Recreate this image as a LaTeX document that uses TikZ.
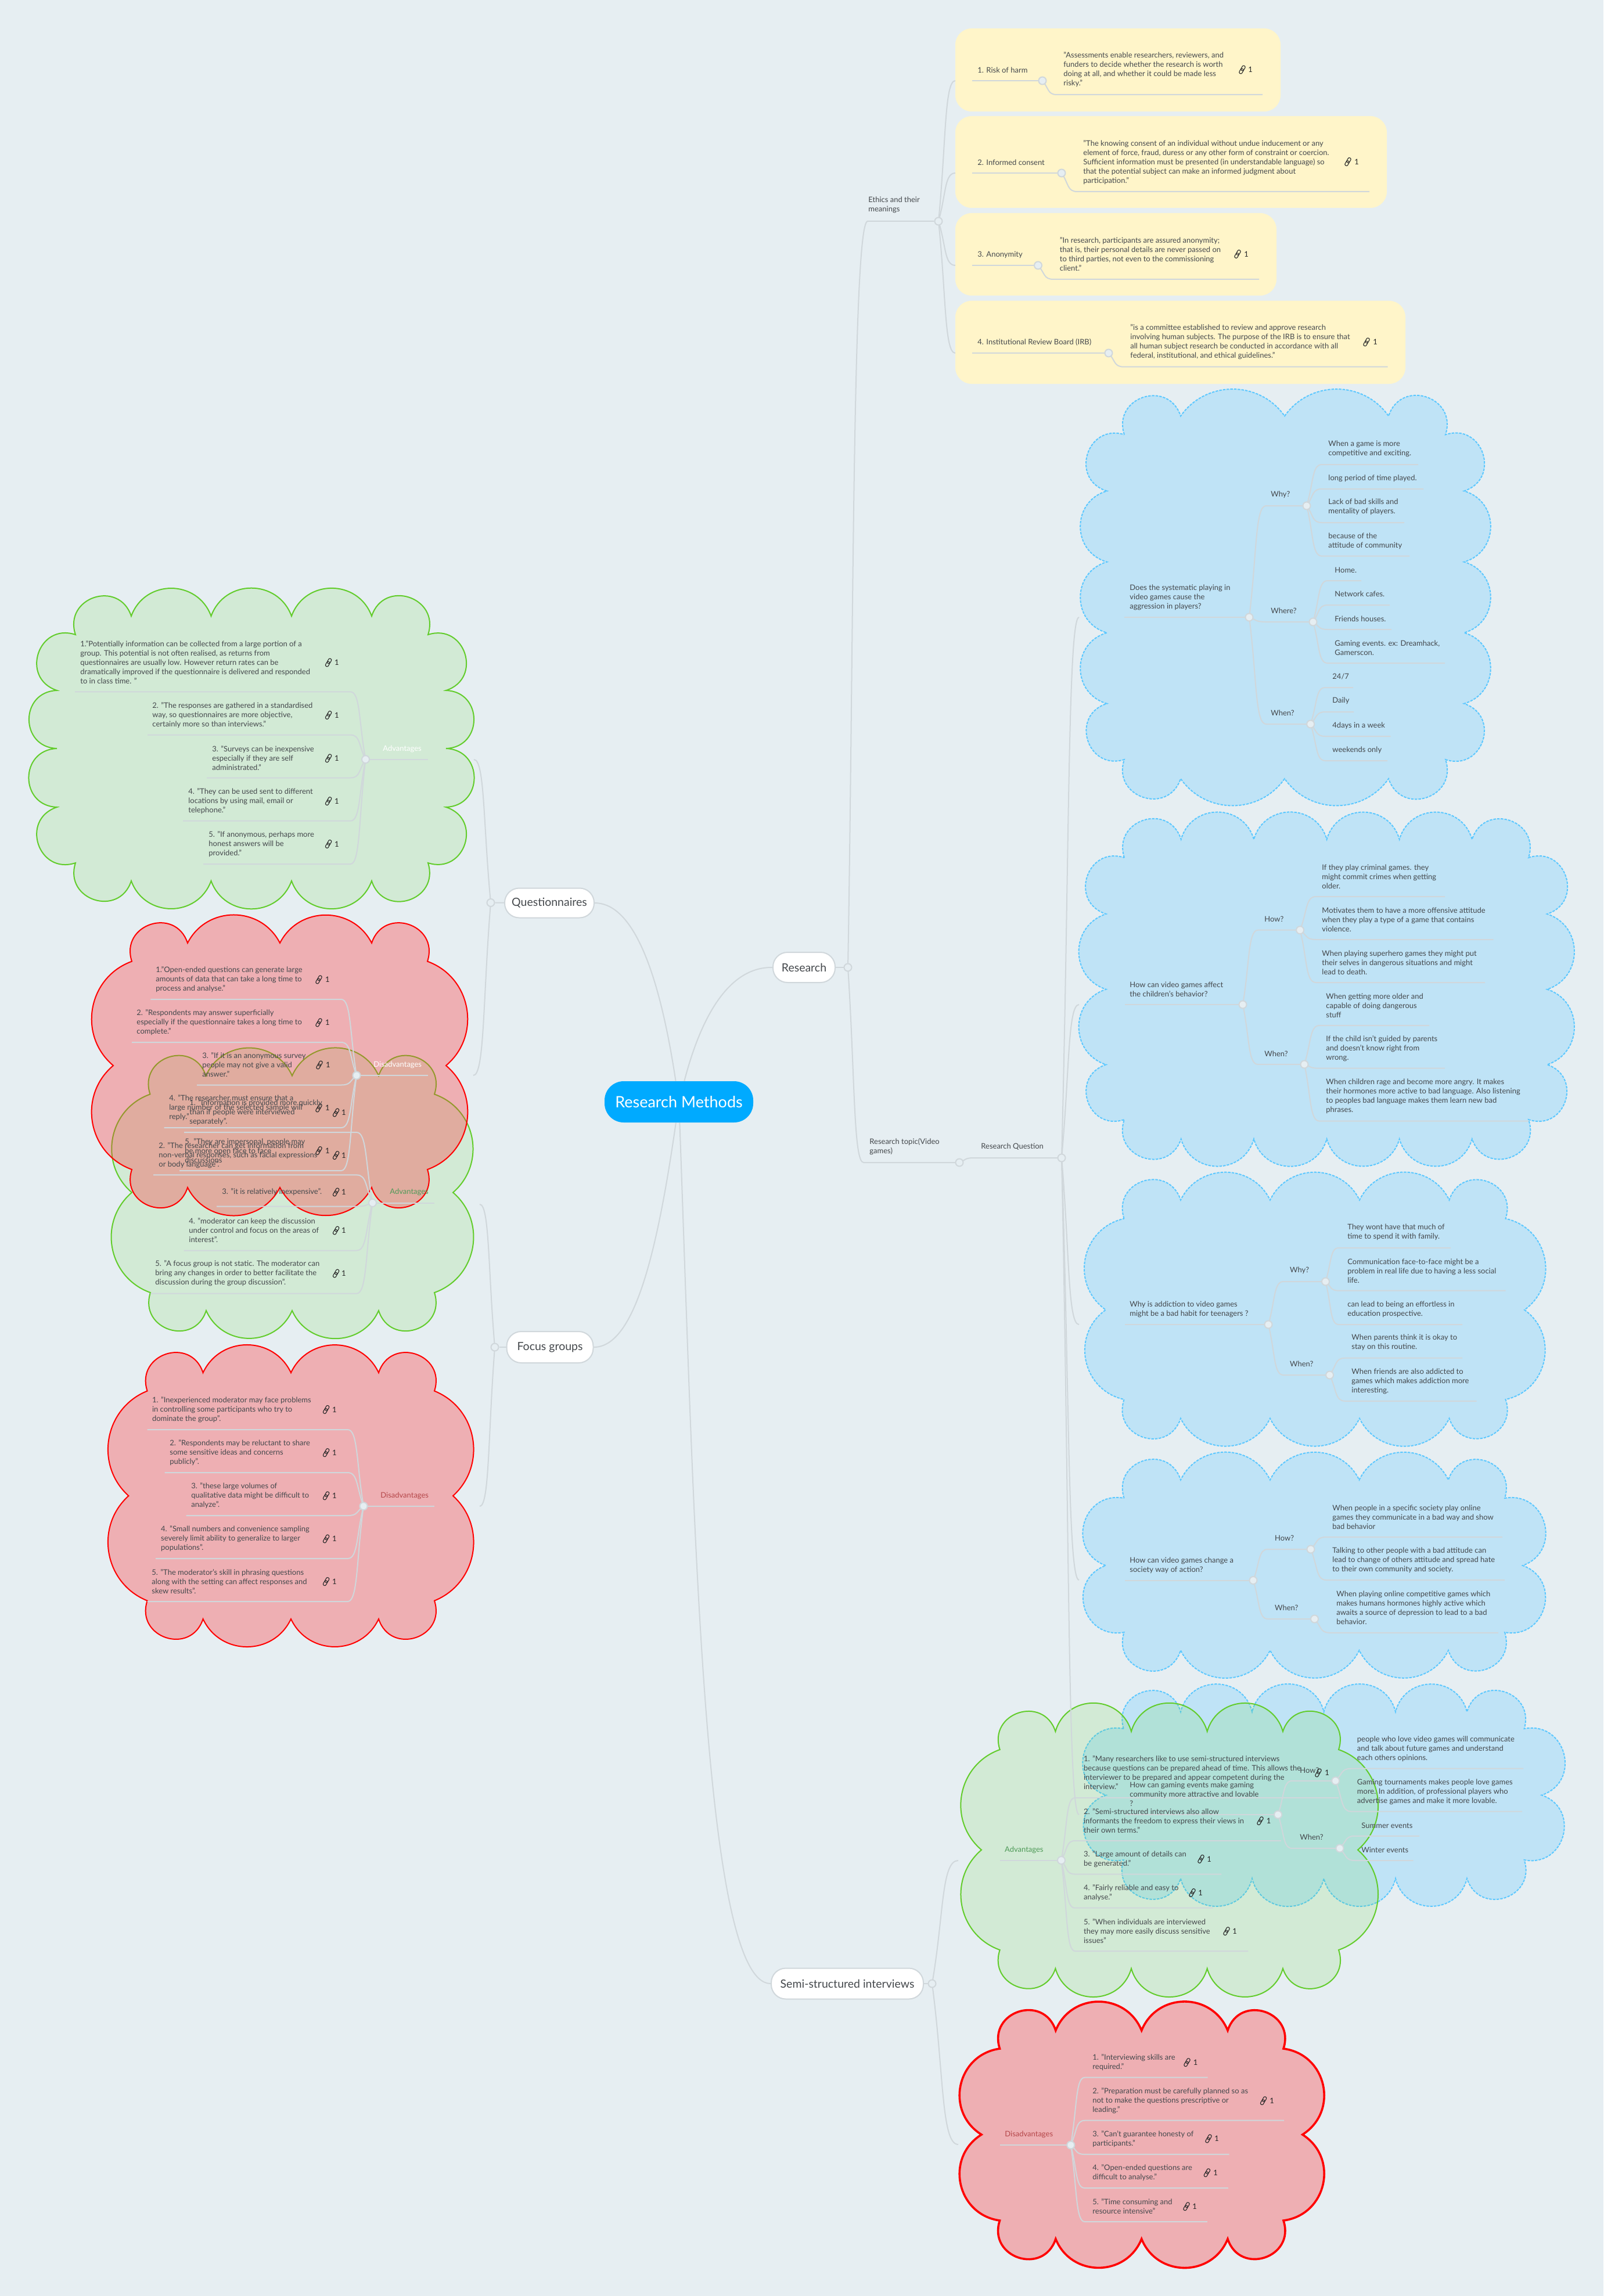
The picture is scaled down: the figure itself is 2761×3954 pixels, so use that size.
\documentclass[tikz,border=0pt]{standalone}
\usepackage{fontspec}
\setmainfont{Lato}
\usetikzlibrary{calc}
\definecolor{bgc}{HTML}{E6EEF2}
\definecolor{linec}{HTML}{D0D7DB}
\definecolor{txtc}{HTML}{44484C}
\definecolor{yellowc}{HTML}{FFF5C9}
\definecolor{bluef}{HTML}{BFE3F6}
\definecolor{blues}{HTML}{5CC8FF}
\definecolor{greenf}{RGB}{100,215,50}
\definecolor{greens}{HTML}{62CC2B}
\definecolor{redf}{RGB}{255,44,48}
\definecolor{tgreen}{HTML}{4F9A58}
\definecolor{tred}{HTML}{B5474A}
\definecolor{rootc}{HTML}{00AAFF}
\pgfdeclarelayer{cl}
\pgfdeclarelayer{ln}
\pgfsetlayers{cl,ln,main}
\newcounter{nc}
\tikzset{
  conn/.style={draw=linec,line width=1pt},
  tx/.style={anchor=west,align=left,inner sep=0pt,text=txtc,font=\fontsize{6.5}{8}\selectfont},
  dotn/.style={circle,draw=linec,fill=bgc,line width=1pt,minimum size=6.5pt,inner sep=0pt},
  pill/.style={draw=linec,fill=white,line width=1pt,rounded corners=12.5pt,text=txtc,inner sep=0pt,font=\fontsize{9.75}{11}\selectfont},
  rootn/.style={fill=rootc,rounded corners=16.5pt,text=white,inner sep=0pt,font=\fontsize{13.5}{15}\selectfont,minimum width=128pt,minimum height=35.5pt},
  bluec/.style={fill=bluef,draw=blues,line width=1pt,dash pattern=on 2.2pt off 1pt},
  greenc/.style={draw=greens,line width=1pt,fill=greenf,fill opacity=.15},
  redc/.style={draw=red,line width=1pt,fill=redf,fill opacity=.32},
  ybox/.style={fill=yellowc,rounded corners=14pt},
  iconp/.style={draw=black!85,line width=.55pt,rounded corners=1.1pt},
}
\newcommand\cloudp[3]{\begin{pgfonlayer}{cl}
  \draw[#1] #2 foreach \xc/\yc/\bc [evaluate=\bc as \lc using {0.8515/cos(\bc/2)^2}] in {#3} { to[bend left=\bc,looseness=\lc] (\xc,\yc) } -- cycle;
\end{pgfonlayer}}
\newcommand\DOT[3]{\node[dotn] (#1) at (#2,#3) {};}
\newcommand\cn[5]{\coordinate (#5) at (#3,#4);
  \begin{pgfonlayer}{ln}
  \draw[conn] let \p1=(#1), \p2=(#2,#4) in (\p1) .. controls ({\x1+.45*(\x2-\x1)},{\y1+.55*(\y2-\y1)}) and ({\x1+.35*(\x2-\x1)},\y2) .. (\p2) -- (#5);
  \end{pgfonlayer}}
\newcommand\tn[3]{\stepcounter{nc}\node[tx] (t\arabic{nc}) at (#1,#2) {#3};}
\newcommand\leaf[7]{\stepcounter{nc}\cn{#1}{#2}{#3}{#4}{e\arabic{nc}}\tn{#5}{#6}{#7}}
\newcommand\lnk[3]{\begin{scope}[shift={(#1,#2)},rotate=60]
    \draw[iconp] (-7.5,-2.6) rectangle (1.5,2.6);
    \draw[iconp] (-1.5,-2.6) rectangle (7.5,2.6);
  \end{scope}
  \stepcounter{nc}\node[tx,anchor=center,text=black!85] (t\arabic{nc}) at (#3,#2) {1};}
\begin{document}
\begin{tikzpicture}[x=0.5pt,y=-0.5pt]
\useasboundingbox (0,0) rectangle (2761,3954);
\begin{pgfonlayer}{cl}
\fill[bgc] (0,0) rectangle (2761,3954);
\fill[ybox] (1645,49) rectangle (2205,192);
\fill[ybox] (1645,200) rectangle (2388,358);
\fill[ybox] (1645,367) rectangle (2198,509);
\fill[ybox] (1645,518) rectangle (2420,661);
\end{pgfonlayer}
% ---- clouds: blue
\cloudp{bluec}{(1936,748.5)}{2033/716.5/90,2212/716.5/55,2391/716.5/55,2489/748.5/90,2521/845.6/90,2521/967.7/74,2521/1089.7/74,2521/1211.7/74,2489/1308/90,2391/1341/90,2212/1341/55,2033/1341/55,1936/1308/90,1906/1211.7/90,1906/1089.7/74,1906/967.7/74,1906/845.6/74,1936/748.5/90}
\cloudp{bluec}{(1936,1477)}{2033.7/1445.5/90,2159/1445.5/74,2284.6/1445.5/74,2409.7/1445.5/74,2534.8/1445.5/74,2632/1477/90,2664/1574/90,2664/1703.7/72,2664/1833.4/72,2632/1928/90,2534.8/1961.5/90,2409.7/1961.5/74,2284.6/1961.5/74,2159/1961.5/74,2033.7/1961.5/74,1936/1928/90,1904.5/1833.4/90,1904.5/1703.7/72,1904.5/1574/72,1936/1477/90}
\cloudp{bluec}{(1935.6,2098.6)}{2033/2066.6/90,2187/2066.6/64,2341/2066.6/64,2495.5/2066.6/64,2592.5/2098.6/90,2625/2255.7/66,2592.5/2410/66,2495.5/2442.6/90,2341/2442.6/64,2187/2442.6/64,2033/2442.6/64,1935.6/2410/90,1904/2255.7/66,1935.6/2098.6/66}
\cloudp{bluec}{(1935.6,2580)}{2033/2548.6/90,2187/2548.6/64,2340.5/2548.6/64,2494/2548.6/64,2591/2580/90,2622/2696/85,2591/2811/85,2494/2842/90,2340.5/2842/64,2187/2842/64,2033/2842/64,1935.6/2811/90,1904/2696/85,1935.6/2580/85}
\cloudp{bluec}{(1934.7,2977)}{2033/2948/90,2156/2948/76,2279.6/2948/76,2403/2948/76,2526/2948/76,2624.6/2977/90,2654.7/3091.4/86,2624.6/3203/86,2526/3235/90,2403/3235/76,2279.6/3235/76,2156/3235/76,2033/3235/76,1934.7/3203/90,1904.5/3091.4/86,1934.7/2977/86}
% ---- clouds: green
\cloudp{greenc}{(130,1093)}{226/1061/90,363.5/1061/70,502/1061/70,640/1061/70,737/1093/90,768/1189/90,768/1289/88,768/1390/88,737/1486/90,640/1517/90,502/1517/70,363.5/1517/70,226/1517/70,130/1486/90,98/1390/90,98/1289/88,98/1189/88,130/1093/90}
\cloudp{greenc}{(258.5,1884.4)}{354.5/1852.6/90,503/1852.6/66,652/1852.6/66,748/1884.4/90,780/2053.6/60,748/2226/60,652/2257/90,503/2257/66,355/2257/66,259/2226/90,227/2053.6/60,258.5/1884.4/60}
\cloudp{greenc}{(1721.7,3013)}{1817.4/2981.8/90,1948/2981.8/74,2078.7/2981.8/74,2209/2981.8/74,2305/3013/90,2338/3185.7/60,2305/3358/60,2209/3390/90,2078.7/3390/74,1948/3390/74,1817.4/3390/74,1721.7/3358/90,1690/3185.7/60,1721.7/3013/60}
% ---- clouds: red
\cloudp{redc}{(227,1655.6)}{323/1624/90,482/1624/63,640/1624/63,736/1655.6/90,768/1835/60,736/2014/60,640/2045/90,482/2045/63,323/2045/63,227/2014/90,195/1835/60,227/1655.6/60}
\cloudp{redc}{(253.6,2395.4)}{349.6/2364/90,501/2364/65,652/2364/65,748/2395.4/90,780/2576/58,748/2756.6/58,652/2788/90,501/2788/65,349.6/2788/65,253.6/2756.6/90,221.4/2576/58,253.6/2395.4/58}
\cloudp{redc,line width=1.8pt}{(1721.5,3528)}{1817.8/3496.7/90,1965.7/3496.7/68,2114/3496.7/68,2210/3528/90,2242.8/3676/70,2210/3824/70,2114/3855.7/90,1965.7/3855.7/68,1817.8/3855.7/68,1721.5/3824/90,1690/3676/70,1721.5/3528/70}
% ---- main nodes
\node[rootn] (root) at (1169,1897.5) {Research Methods};
\node[pill,minimum width=53.5pt,minimum height=26pt] (pres) at (1384.5,1666) {Research};
\node[pill,minimum width=77pt,minimum height=25.5pt] (pq) at (946,1555) {Questionnaires};
\node[pill,minimum width=74.5pt,minimum height=27pt] (pf) at (947,2320) {Focus groups};
\node[pill,minimum width=131pt,minimum height=26.5pt] (ps) at (1459,3416) {Semi-structured interviews};
\DOT{dRes}{1460}{1666}
\DOT{dQn}{845}{1554.5}
\DOT{dFoc}{852}{2320}
\DOT{dSemi}{1605}{3416}
\begin{pgfonlayer}{ln}
\draw[conn] (root) .. controls (1130,1640) and (1080,1555) .. (pq.east);
\draw[conn] (root) .. controls (1210,1740) and (1260,1665) .. (pres.west);
\draw[conn] (root) .. controls (1130,2170) and (1090,2320) .. (pf.east);
\draw[conn] (root) .. controls (1195,2600) and (1210,3416) .. (ps.west);
\draw[conn] (pres) -- (dRes);
\draw[conn] (pq) -- (dQn);
\draw[conn] (pf) -- (dFoc);
\draw[conn] (ps) -- (dSemi);
\end{pgfonlayer}
% ---- Ethics
\DOT{dEth}{1616}{381}
\coordinate (ethc) at (1494,381);
\begin{pgfonlayer}{ln}
\draw[conn] (dRes) .. controls (1470,1100) and (1468,381) .. (ethc) -- (dEth);
\end{pgfonlayer}
\tn{1495}{353}{Ethics and their\\meanings}
\cn{dEth}{1645}{1645}{139}{eb1}
\cn{dEth}{1645}{1645}{298}{eb2}
\cn{dEth}{1645}{1645}{457}{eb3}
\cn{dEth}{1645}{1645}{608}{eb4}
\DOT{y1}{1795}{139}
\leaf{y1}{1674}{1674}{139}{1683}{120.5}{1. Risk of harm}
\leaf{y1}{1820}{2174}{163}{1831}{119.8}{"Assessments enable researchers, reviewers, and\\funders to decide whether the research is worth\\doing at all, and whether it could be made less\\risky."}
\lnk{2139}{120}{2153}
\DOT{y2}{1828}{298}
\leaf{y2}{1674}{1674}{298}{1683}{279.5}{2. Informed consent}
\leaf{y2}{1855}{2358}{330}{1865}{279.3}{"The knowing consent of an individual without undue inducement or any\\element of force, fraud, duress or any other form of constraint or coercion.\\Sufficient information must be presented (in understandable language) so\\that the potential subject can make an informed judgment about\\participation."}
\lnk{2321}{278.6}{2336}
\DOT{y3}{1787.5}{457}
\leaf{y3}{1674}{1674}{457}{1683}{438.4}{3. Anonymity}
\leaf{y3}{1814}{2168}{481}{1824.5}{438}{"In research, participants are assured anonymity;\\that is, their personal details are never passed on\\to third parties, not even to the commissioning\\client."}
\lnk{2131}{437.5}{2146}
\DOT{y4}{1909}{608}
\leaf{y4}{1674}{1674}{608}{1683}{589}{4. Institutional Review Board (IRB)}
\leaf{y4}{1935}{2389.5}{631.7}{1946}{589}{"is a committee established to review and approve research\\involving human subjects. The purpose of the IRB is to ensure that\\all human subject research be conducted in accordance with all\\federal, institutional, and ethical guidelines."}
\lnk{2353}{589}{2368}
% ---- research question
\DOT{dTop}{1652}{2002}
\DOT{dQ}{1828}{1994}
\leaf{dRes}{1487}{1652}{2002}{1497}{1975}{Research topic(Video\\games)}
\leaf{dTop}{1677}{1828}{1994}{1689}{1975}{Research Question}
\cn{dQ}{1858}{1858}{1063}{q1}
\cn{dQ}{1858}{1858}{1730}{q2}
\cn{dQ}{1858}{1858}{2281}{q3}
\cn{dQ}{1858}{1858}{2721}{q4}
\cn{dQ}{1858}{1858}{3125}{q5}
% Q1
\DOT{a}{2151}{1063}
\leaf{a}{1936}{1936}{1063}{1945}{1028.5}{Does the systematic playing in\\video games cause the\\aggression in players?}
\DOT{aw}{2250}{871}\DOT{ah}{2261}{1071}\DOT{an}{2256.7}{1247}
\leaf{a}{2180}{2250}{871}{2188}{852}{Why?}
\leaf{a}{2180}{2261}{1071}{2188}{1052}{Where?}
\leaf{a}{2180}{2256.7}{1247}{2188}{1228}{When?}
\leaf{aw}{2276}{2442}{800}{2287}{773}{When a game is more\\competitive and exciting.}
\leaf{aw}{2276}{2451}{842}{2287}{823.6}{long period of time played.}
\leaf{aw}{2276}{2418}{900}{2287}{873}{Lack of bad skills and\\mentality of players.}
\leaf{aw}{2276}{2427}{957.6}{2287}{932}{because of the\\attitude of community}
\leaf{ah}{2286}{2344}{1000}{2298}{981.5}{Home.}
\leaf{ah}{2286}{2393}{1042}{2298}{1023}{Network cafes.}
\leaf{ah}{2286}{2396}{1084}{2298}{1065.7}{Friends houses.}
\leaf{ah}{2286}{2488}{1142}{2298}{1115.5}{Gaming events. ex: Dreamhack,\\Gamerscon.}
\leaf{an}{2282}{2330}{1184}{2294}{1165}{24/7}
\leaf{an}{2282}{2331}{1226}{2294}{1207}{Daily}
\leaf{an}{2282}{2394.5}{1268}{2294}{1249.5}{4days in a week}
\leaf{an}{2282}{2389}{1310}{2294}{1291.6}{weekends only}
% Q2
\DOT{b}{2140}{1730}
\leaf{b}{1937}{1937}{1730}{1945}{1703.7}{How can video games affect\\the children's behavior?}
\DOT{bh}{2238.6}{1601.7}\DOT{bn}{2246}{1833}
\leaf{b}{2166}{2238.6}{1601.7}{2177}{1583}{How?}
\leaf{b}{2166}{2246}{1833}{2177}{1814.4}{When?}
\leaf{bh}{2266}{2488}{1544}{2276}{1509.7}{If they play criminal games. they\\might commit crimes when getting\\older.}
\leaf{bh}{2266}{2571.6}{1618}{2276}{1583.6}{Motivates them to have a more offensive attitude\\when they play a type of a game that contains\\violence.}
\leaf{bh}{2266}{2557}{1692}{2276}{1657.7}{When playing superhero games they might put\\their selves in dangerous situations and might\\lead to death.}
\leaf{bn}{2272}{2461}{1766}{2283}{1731.5}{When getting more older and\\capable of doing dangerous\\stuff}
\leaf{bn}{2272}{2488}{1839.7}{2283}{1805.7}{If the child isn't guided by parents\\and doesn't know right from\\wrong.}
\leaf{bn}{2272}{2632}{1930.6}{2283}{1888}{When children rage and become more angry. It makes\\their hormones more active to bad language. Also listening\\to peoples bad language makes them learn new bad\\phrases.}
% Q3
\DOT{c}{2184}{2281}
\leaf{c}{1937}{1937}{2281}{1945}{2254.5}{Why is addiction to video games\\might be a bad habit for teenagers ?}
\DOT{cw}{2282.5}{2207}\DOT{cn}{2289.6}{2368}
\leaf{c}{2210}{2282.5}{2207}{2220.7}{2188}{Why?}
\leaf{c}{2210}{2289.6}{2368}{2220.7}{2349}{When?}
\leaf{cw}{2305}{2498}{2149}{2320}{2122}{They wont have that much of\\time to spend it with family.}
\leaf{cw}{2305}{2592.5}{2222.6}{2320}{2188.3}{Communication face-to-face might be a\\problem in real life due to having a  less social\\life.}
\leaf{cw}{2305}{2518}{2281}{2320}{2254.5}{can lead to being an effortless in\\education prospective.}
\leaf{cn}{2316}{2518}{2338.7}{2327}{2312}{When parents think it is okay to\\stay on this routine.}
\leaf{cn}{2316}{2542.7}{2412.8}{2327}{2378.4}{When friends are also addicted to\\games which makes addiction more\\interesting.}
% Q4
\DOT{d}{2158}{2721.5}
\leaf{d}{1937}{1937}{2721.5}{1945}{2695.7}{How can video games change a\\society way of action?}
\DOT{dh}{2257}{2668}\DOT{dn}{2263.5}{2788}
\leaf{d}{2183}{2257}{2668}{2194.7}{2649}{How?}
\leaf{d}{2183}{2263.5}{2788}{2194.7}{2769}{When?}
\leaf{dh}{2283.6}{2587}{2647}{2294}{2612.4}{When people in a specific society play online\\games they communicate in a bad way and show\\bad behavior}
\leaf{dh}{2283.6}{2591}{2721}{2294}{2686.3}{Talking to other people with a bad attitude can\\lead to change of others attitude and spread hate\\to their own community and society.}
\leaf{dn}{2290}{2580}{2811.8}{2301}{2768.8}{When playing online competitive games which\\makes humans hormones highly active which\\awaits a source of depression to lead to a bad\\behavior.}
% Q5
\DOT{f}{2200.6}{3125}
\leaf{f}{1938}{1938}{3125}{1945}{3090}{How can gaming events make gaming\\community more attractive and lovable\\?}
\DOT{fh}{2299.7}{3066.8}\DOT{fn}{2307}{3183}
\leaf{f}{2225}{2299.7}{3066.8}{2238}{3049}{How?}
\leaf{f}{2225}{2307}{3183}{2238}{3164}{When?}
\leaf{fh}{2326.5}{2623}{3045.7}{2336.5}{3011.8}{people who love video games will communicate\\and talk about future games and understand\\each others opinions.}
\leaf{fh}{2326.5}{2621}{3119.6}{2336.5}{3085.7}{Gaming tournaments makes people love games\\more. In addition, of professional players who\\advertise games and make it more lovable.}
\leaf{fn}{2333}{2444}{3161.8}{2344}{3143.6}{Summer events}
\leaf{fn}{2333}{2433.6}{3204}{2344}{3185.7}{Winter events}
% ---- Questionnaires
\cn{dQn}{816}{816}{1308}{qa}
\cn{dQn}{815}{815}{1852}{qd}
\DOT{g}{629.5}{1307.7}
\leaf{g}{737}{737}{1307.7}{659}{1289.7}{\textcolor{white}{Advantages}}
\leaf{g}{603.5}{129}{1191.4}{138}{1141}{1."Potentially information can be collected from a large portion of a\\group. This potential is not often realised, as returns from\\questionnaires are usually low. However return rates can be\\dramatically improved if the questionnaire is delivered and responded\\to in class time. "}
\lnk{565.6}{1141}{580}
\leaf{g}{603.5}{254}{1265.6}{262}{1232}{2. "The responses are gathered in a standardised\\way, so questionnaires are more objective,\\certainly more so than interviews."}
\lnk{565.6}{1231.5}{580}
\leaf{g}{603.5}{356}{1339.5}{365}{1305.8}{3. "Surveys can be inexpensive\\especially if they are self\\administrated."}
\lnk{565.6}{1305.8}{580}
\leaf{g}{603.5}{315}{1413.7}{324}{1379.6}{4. "They can be used sent to different\\locations by using mail, email or\\telephone."}
\lnk{565.6}{1379.6}{580}
\leaf{g}{603.5}{350}{1488}{359}{1453.5}{5. "If anonymous, perhaps more\\honest answers will be\\provided."}
\lnk{565.6}{1453.5}{580}
\DOT{h}{614}{1852}
\leaf{h}{737}{737}{1852}{643}{1834}{\textcolor{white}{Disadvantages}}
\leaf{h}{587.5}{259.4}{1721}{268}{1687}{1."Open-ended questions can generate large\\amounts of data that can take a long time to\\process and analyse."}
\lnk{549}{1687}{564}
\leaf{h}{587.5}{227}{1795}{235}{1761}{2. "Respondents may answer superficially\\especially if the questionnaire takes a long time to\\complete."}
\lnk{549}{1761}{564}
\leaf{h}{587.5}{339}{1868.5}{348}{1834}{3. "If it is an anonymous survey\\people may not give a valid\\answer."}
\lnk{550}{1834}{565}
\leaf{h}{587.5}{282.6}{1942}{291}{1908}{4. "The researcher must ensure that a\\large number of the selected sample will\\reply."}
\lnk{549}{1908}{564}
\leaf{h}{587.5}{309}{2016}{318}{1981.6}{5. "They are impersonal, people may\\be more open face to face\\discussions}
\lnk{549}{1981.6}{564}
% ---- Focus groups
\cn{dFoc}{826}{826}{2074}{fa}
\cn{dFoc}{826}{826}{2594}{fd}
\DOT{m}{641.5}{2071.5}
\leaf{m}{748}{748}{2071.5}{671}{2053}{\textcolor{tgreen}{Advantages}}
\leaf{m}{614}{317}{1950}{326}{1916}{1. "Information is provided more quickly\\than if people were interviewed\\separately".}
\lnk{578.6}{1916}{592}
\leaf{m}{614}{264}{2023.4}{273}{1989.6}{2. "The researcher can get information from\\non-verbal responses, such as facial expressions\\or body language".}
\lnk{578.6}{1989.6}{592}
\leaf{m}{614}{373}{2077.5}{382}{2053}{3. "it is relatively inexpensive".}
\lnk{578.6}{2053}{592}
\leaf{m}{614}{316.5}{2153.5}{325}{2119}{4. "moderator can keep the discussion\\under control and focus on the areas of\\interest".}
\lnk{578.6}{2119}{592}
\leaf{m}{614}{259.4}{2227.7}{267}{2193}{5. "A focus group is not static. The moderator can\\bring any changes in order to better facilitate the\\discussion during the group discussion".}
\lnk{578.6}{2193}{592}
\DOT{p}{626}{2593.7}
\leaf{p}{748}{748}{2593.7}{655}{2575.8}{\textcolor{tred}{Disadvantages}}
\leaf{p}{598.7}{253.6}{2462}{261.6}{2427.4}{1. "Inexperienced moderator may face problems\\in controlling some participants who try to\\dominate the group".}
\lnk{561.6}{2427.4}{576}
\leaf{p}{598.7}{283.5}{2536}{292}{2501.6}{2. "Respondents may be reluctant to share\\some sensitive ideas and concerns\\publicly".}
\lnk{561.6}{2501.6}{576}
\leaf{p}{598.7}{320.5}{2610}{329}{2575.8}{3. "these large volumes of\\qualitative data might be difficult to\\analyze".}
\lnk{561.6}{2575.8}{576}
\leaf{p}{598.7}{268}{2684}{276.8}{2650}{4. "Small numbers and convenience sampling\\severely limit ability to generalize to larger\\populations".}
\lnk{561.6}{2650}{576}
\leaf{p}{598.7}{253.6}{2758}{261}{2723.6}{5. "The moderator's skill in phrasing questions\\along with the setting can affect responses and\\skew results".}
\lnk{561.6}{2723.6}{576}
% ---- Semi-structured
\cn{dSemi}{1650}{1650}{3204}{sa}
\cn{dSemi}{1650}{1650}{3693}{sd}
\DOT{r}{1827.5}{3203.6}
\leaf{r}{1721.7}{1721.7}{3203.6}{1729.7}{3185.7}{\textcolor{tgreen}{Advantages}}
\leaf{r}{1851}{2305}{3096}{1865.7}{3053}{1. "Many researchers like to use semi-structured interviews\\because questions can be prepared ahead of time. This allows the\\interviewer to be prepared and appear competent during the\\interview."}
\lnk{2270}{3053}{2285}
\leaf{r}{1851}{2206}{3170}{1865.7}{3135.7}{2. "Semi-structured interviews also allow\\informants the freedom to express their views in\\their own terms."}
\lnk{2170}{3135.7}{2184.5}
\leaf{r}{1851}{2103.4}{3227.5}{1865.7}{3201.6}{3. "Large amount of details can\\be generated."}
\lnk{2068}{3201.4}{2082}
\leaf{r}{1851}{2088.7}{3285.7}{1865.7}{3259.8}{4. "Fairly reliable and easy to\\analyse."}
\lnk{2053}{3259.6}{2067}
\leaf{r}{1851}{2149}{3360}{1865.7}{3325.7}{5. "When individuals are interviewed\\they may more easily discuss sensitive\\issues"}
\lnk{2112}{3325.7}{2126}
\DOT{w}{1843.8}{3694}
\leaf{w}{1721.5}{1721.5}{3694}{1730}{3675.7}{\textcolor{tred}{Disadvantages}}
\leaf{w}{1867.7}{2079.7}{3577.7}{1881}{3552}{1. "Interviewing skills are\\required."}
\lnk{2044}{3551.7}{2058.5}
\leaf{w}{1867.7}{2211}{3651.7}{1881}{3617.7}{2. "Preparation must be carefully planned so as\\not to make the questions prescriptive or\\leading."}
\lnk{2175.6}{3617.7}{2190}
\leaf{w}{1867.7}{2116.6}{3710}{1881}{3683.7}{3. "Can't guarantee honesty of\\participants."}
\lnk{2081}{3683}{2095}
\leaf{w}{1867.7}{2114.8}{3768}{1881}{3741.7}{4. "Open-ended questions are\\difficult to analyse."}
\lnk{2078.4}{3741.7}{2093}
\leaf{w}{1867.7}{2078.8}{3826}{1881}{3799.7}{5. "Time consuming and\\resource intensive"}
\lnk{2043}{3799.7}{2057}
\end{tikzpicture}
\end{document}
